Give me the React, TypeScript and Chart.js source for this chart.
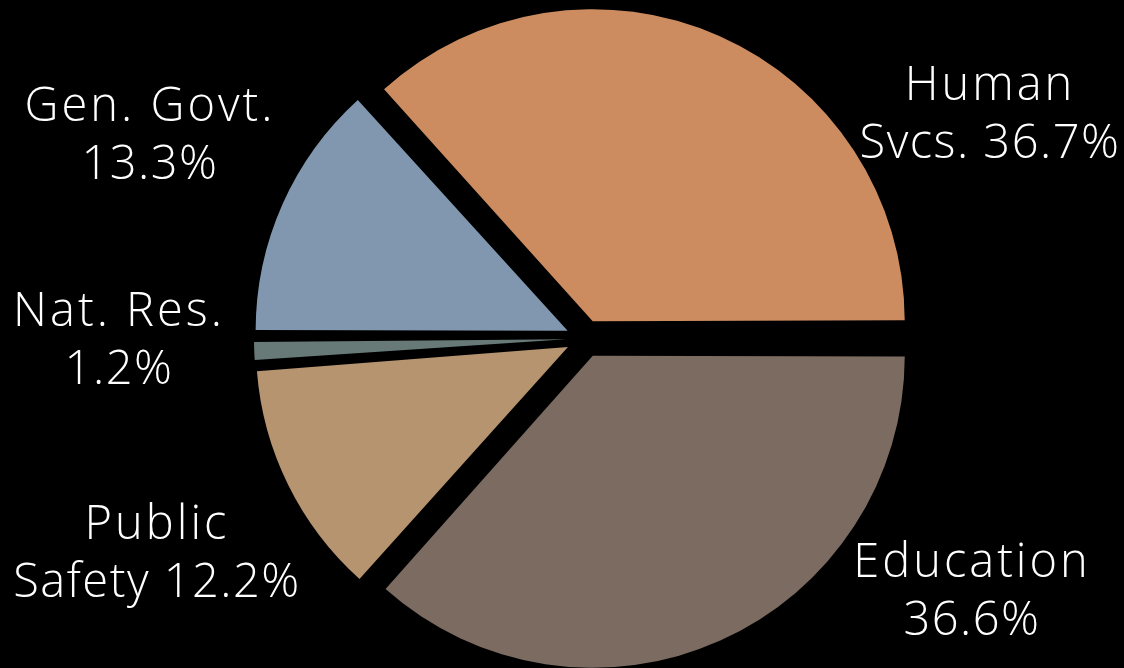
import React, { useEffect, useRef } from "react";
import { Chart, registerables } from "chart.js";

Chart.register(...registerables);

// ---- data ----
const categories = ["Education", "Public Safety", "Nat. Res.", "Gen. Govt.", "Human Svcs."];
const shares = [36.6, 12.2, 1.2, 13.3, 36.7];
const sliceColors = ["#7B6B61", "#B5946F", "#677A77", "#8097AF", "#CD8C60"];
const labelFirstLine = ["Education", "Public", "Nat. Res.", "Gen. Govt.", "Human"];
const labelSecondPrefix = ["", "Safety ", "", "", "Svcs. "];

const PIE_RADIUS = 312;
const PIE_OFFSET = 76; // Chart.js translates arcs by offset / 4

const labelAnchors = [
  { x: 972, y: 577 },
  { x: 157, y: 539 },
  { x: 119, y: 326 },
  { x: 150, y: 121 },
  { x: 990, y: 100 },
];

const radiusFixPlugin = {
  id: "radiusFix",
  beforeDatasetsDraw(chart: any) {
    const meta = chart.getDatasetMeta(0);
    meta.data.forEach((arc: any) => {
      const off = PIE_OFFSET / 4;
      const fix = 1 - Math.sin(Math.min(Math.PI, arc.circumference || 0));
      arc.outerRadius = PIE_RADIUS - off * fix;
    });
  },
};

const outsideLabelsPlugin = {
  id: "outsideLabels",
  afterDatasetsDraw(chart: any) {
    const ctx = chart.ctx as CanvasRenderingContext2D;
    ctx.save();
    ctx.fillStyle = "#ffffff";
    ctx.textAlign = "center";
    ctx.textBaseline = "alphabetic";
    ctx.font = '300 47px "Open Sans", "Lato", sans-serif';
    const lineGap = 58;
    categories.forEach((_, i) => {
      const a = labelAnchors[i];
      const line1 = labelFirstLine[i];
      const line2 = labelSecondPrefix[i] + shares[i].toFixed(1) + "%";
      (ctx as any).letterSpacing = "3px";
      ctx.fillText(line1, a.x, a.y);
      (ctx as any).letterSpacing = "1.5px";
      ctx.fillText(line2, a.x, a.y + lineGap);
    });
    ctx.restore();
  },
};

export default function App() {
  const canvasRef = useRef<HTMLCanvasElement | null>(null);

  useEffect(() => {
    document.body.style.margin = "0";
    document.body.style.background = "#000";
    const canvas = canvasRef.current;
    if (!canvas) return;
    const chart = new Chart(canvas, {
      type: "pie",
      data: {
        labels: categories,
        datasets: [
          {
            data: shares,
            backgroundColor: sliceColors,
            borderWidth: 0,
            offset: PIE_OFFSET,
            radius: PIE_RADIUS,
            rotation: 90,
          } as any,
        ],
      },
      options: {
        animation: false,
        responsive: false,
        devicePixelRatio: 1,
        rotation: 90,
        events: [],
        layout: { padding: { left: 46, top: 9, right: 0, bottom: 0 } },
        plugins: {
          legend: { display: false },
          tooltip: { enabled: false },
        },
      } as any,
      plugins: [radiusFixPlugin, outsideLabelsPlugin],
    });
    return () => chart.destroy();
  }, []);

  return (
    <div style={{ position: "fixed", left: 0, top: 0, width: 1124, height: 668, background: "#000" }}>
      <canvas ref={canvasRef} width={1124} height={668} style={{ display: "block" }} />
    </div>
  );
}
